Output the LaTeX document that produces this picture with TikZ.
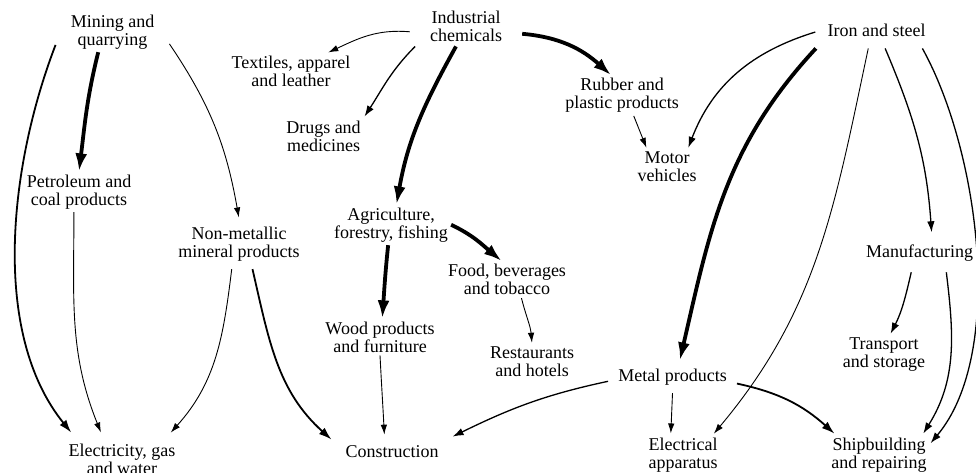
\documentclass[tikz,border=0pt]{standalone}
\usepackage{fontspec}
\setmainfont{Liberation Serif}
\usetikzlibrary{arrows.meta}

\begin{document}
\begin{tikzpicture}[x=1pt, y=1pt,
    sector/.style={align=center, inner sep=3pt, font=\fontsize{18}{18}\selectfont},
    weak/.style={line width=0.9pt, -{Latex[length=10pt,width=6.5pt]}, shorten >=1pt},
    modest/.style={line width=1.3pt, -{Latex[length=11pt,width=7.5pt]}, shorten >=1pt},
    strong/.style={line width=1.8pt, -{Latex[length=13pt,width=8.5pt]}, shorten >=1pt},
    heavy/.style={line width=3.8pt, -{Latex[length=18pt,width=12pt]}}]
    \useasboundingbox (0,0) rectangle (976,472);

    \node[sector, inner xsep=15pt] (mining) at (112.5,440.2) {Mining and\\quarrying};
    \node[sector] (textiles) at (291,400.6) {Textiles, apparel\\and leather};
    \node[sector] (drugs) at (323.5,336.1) {Drugs and\\medicines};
    \node[sector] (petrol) at (79,280.2) {Petroleum and\\coal products};
    \node[sector, inner ysep=8pt] (nonmetal) at (239,228.2) {Non-metallic\\mineral products};
    \node[sector, inner ysep=10pt] (elec) at (122,13.1) {Electricity, gas\\and water};
    \node[sector, inner xsep=20pt, inner ysep=5pt] (industrial) at (466,446.1) {Industrial\\chemicals};
    \node[sector] (rubber) at (622,376.4) {Rubber and\\plastic products};
    \node[sector] (motor) at (667,305.1) {Motor\\vehicles};
    \node[sector] (agri) at (391,247.2) {Agriculture,\\forestry, fishing};
    \node[sector] (food) at (507,192.4) {Food, beverages\\and tobacco};
    \node[sector] (wood) at (380,135.1) {Wood products\\and furniture};
    \node[sector] (rest) at (532,110.1) {Restaurants\\and hotels};
    \node[sector, inner xsep=13pt, inner ysep=10pt] (constr) at (392,20.1) {Construction};
    \node[sector, inner xsep=10pt, inner ysep=8pt] (metal) at (672.5,95.2) {Metal products};
    \node[sector] (elecapp) at (683,17.2) {Electrical\\apparatus};
    \node[sector] (ship) at (879,17.2) {Shipbuilding\\and repairing};
    \node[sector, inner sep=12pt] (iron) at (876.5,442.1) {Iron and steel};
    \node[sector, inner ysep=11pt] (manuf) at (919.5,219.2) {Manufacturing};
    \node[sector] (transport) at (884,117.4) {Transport\\and storage};

    \draw[heavy] (mining.-125) to[out=-104, in=83] (petrol.north);
    \draw[strong] (mining.-167) to[out=-111, in=129, looseness=0.85] (elec.153);
    \draw[weak] (mining.-12) to[out=-56, in=100] (nonmetal.north);
    \draw[weak] (petrol.-104) to[out=-90, in=112] (elec.129);
    \draw[weak] (nonmetal.-106) to[out=-97, in=48] (elec.28);
    \draw[strong] (nonmetal.-62) to[out=-77, in=138] (constr.169);

    \draw[weak] (industrial.-174) to[out=175, in=25] (textiles.27);
    \draw[modest] (industrial.-158) to[out=-135, in=57] (drugs.north east);
    \draw[heavy] (industrial.-116) to[out=-119, in=80] (agri.75);
    \draw[heavy] (industrial.-8) to[out=-5, in=138] (rubber.118);
    \draw[weak] (rubber.-60) -- (motor.138);

    \draw[modest] (iron.-178) to[out=-163, in=69] (motor.41);
    \draw[heavy] (iron.-163) to[out=-133, in=77] (metal.66);
    \draw[weak] (iron.-114) to[out=-102, in=50] (elecapp.34);
    \draw[modest] (iron.-65) to[out=-67, in=94] (manuf.58);
    \draw[modest] (iron.-22) to[out=-61, in=50, looseness=0.76] (ship.12);

    \draw[heavy] (agri.east) to[out=-25, in=140] (food.106);
    \draw[heavy] (agri.-98) to[out=-96, in=86] (wood.83);
    \draw[weak] (food.-52) to[out=-76, in=95] (rest.north);
    \draw[weak] (wood.south) to[out=-87, in=93] (constr.115);

    \draw[modest] (metal.-176) to[out=-168, in=26] (constr.14);
    \draw[weak] (metal.south) -- (elecapp.121);
    \draw[strong] (metal.-6) to[out=-12, in=138] (ship.155);
    \draw[modest] (manuf.-113) to[out=-103, in=63] (transport.73);
    \draw[modest] (manuf.-36) to[out=-83, in=58] (ship.25);
\end{tikzpicture}
\end{document}
